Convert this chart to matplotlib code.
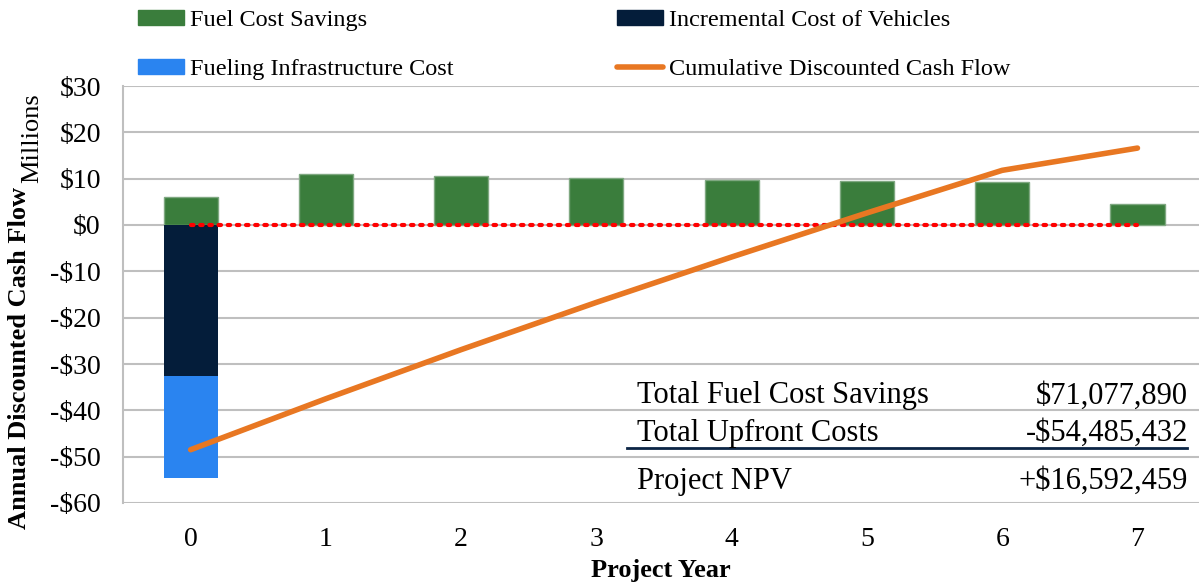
import matplotlib
matplotlib.use('Agg')

import numpy as np
import matplotlib.pyplot as plt
from matplotlib.patches import Patch
from matplotlib.lines import Line2D

# data ($ millions)
years = [0, 1, 2, 3, 4, 5, 6, 7]
fuel_savings = [6.0, 11.0, 10.6, 10.2, 9.8, 9.5, 9.2, 4.6]
vehicle_cost = [-32.6, 0, 0, 0, 0, 0, 0, 0]
infra_cost = [-21.9, 0, 0, 0, 0, 0, 0, 0]
cumulative = [-48.5, -37.5, -26.9, -16.7, -6.9, 2.6, 11.8, 16.6]
y_ticks = [30, 20, 10, 0, -10, -20, -30, -40, -50, -60]
summary_labels = ['Total Fuel Cost Savings', 'Total Upfront Costs', 'Project NPV']
summary_values = ['$71,077,890', '-$54,485,432', '+$16,592,459']

GREEN = '#3A7D3C'
NAVY = '#041D3A'
BLUE = '#2A84F0'
ORANGE = '#E87722'
GRID = '#BFBFBF'

plt.rcParams['font.family'] = ['Liberation Serif', 'DejaVu Serif']

fig = plt.figure(figsize=(11.99, 5.82), dpi=100)
ax = fig.add_axes([123 / 1199, 1 - 503 / 582, 1 - 123 / 1199, (503 - 86) / 582])

x = np.array(years)
w = 0.4
ax.bar(x, fuel_savings, w, color=GREEN, edgecolor='#7FA881', linewidth=1, zorder=3)
ax.bar(x, vehicle_cost, w, color=NAVY, linewidth=0, zorder=3)
ax.bar(x, infra_cost, w, bottom=vehicle_cost, color=BLUE, linewidth=0, zorder=3)

# break-even reference line
ax.plot([years[0], years[-1]], [0, 0], color='red', linestyle=(0, (0.6, 1.6)),
        linewidth=3, dash_capstyle='round', zorder=4)
ax.plot(x, cumulative, color=ORANGE, linewidth=4, solid_capstyle='round', zorder=5)

ax.set_xlim(-0.5, 7.455)
ax.set_ylim(-60, 30)
ax.set_yticks(y_ticks)
ax.set_yticklabels([f'${v}' if v >= 0 else f'-${-v}' for v in y_ticks])
ax.set_xticks(years)
ax.tick_params(length=0, labelsize=20)
ax.tick_params(axis='y', pad=16)
ax.tick_params(axis='x', pad=17)
ax.grid(axis='y', color=GRID, linewidth=1.5, zorder=0)
for side in ['top', 'right', 'bottom']:
    ax.spines[side].set_visible(False)
ax.spines['left'].set_color(GRID)
ax.spines['left'].set_linewidth(1.5)

ax.set_xlabel('Project Year', fontsize=19, fontweight='bold', labelpad=5)
fig.text(20 / 1199, 1 - 358 / 582, 'Annual Discounted Cash Flow', rotation=90,
         fontsize=19, fontweight='bold', ha='center', va='center')
fig.text(32 / 1199, 1 - 138 / 582, 'Millions', rotation=90,
         fontsize=19, ha='center', va='center')

# summary table
row_y = [393, 430, 478]
for lab, val, ry in zip(summary_labels, summary_values, row_y):
    fig.text(637 / 1199, 1 - (ry + 3) / 582, lab, fontsize=22, ha='left', va='center')
    fig.text(1188 / 1199, 1 - (ry + 3) / 582, val, fontsize=22, ha='right', va='center')
fig.add_artist(Line2D([627 / 1199, 1187 / 1199], [1 - 448 / 582] * 2,
                      color='#0B2545', linewidth=2))

# legend, two columns
h1 = [Patch(color=GREEN), Patch(color=BLUE)]
h2 = [Patch(color=NAVY), Line2D([], [], color=ORANGE, linewidth=4, solid_capstyle='round')]
leg_kw = dict(frameon=False, fontsize=17.5, handlelength=1.9, handleheight=0.6,
              handletextpad=0.25, labelspacing=1.12, borderpad=0, borderaxespad=0,
              loc='upper left')
leg1 = fig.legend(h1, ['Fuel Cost Savings', 'Fueling Infrastructure Cost'],
                  bbox_to_anchor=(138 / 1199, 1 - 10 / 582), **leg_kw)
fig.legend(h2, ['Incremental Cost of Vehicles', 'Cumulative Discounted Cash Flow'],
           bbox_to_anchor=(617 / 1199, 1 - 10 / 582), **leg_kw)

fig.savefig('out.png', dpi=100, facecolor='white')
